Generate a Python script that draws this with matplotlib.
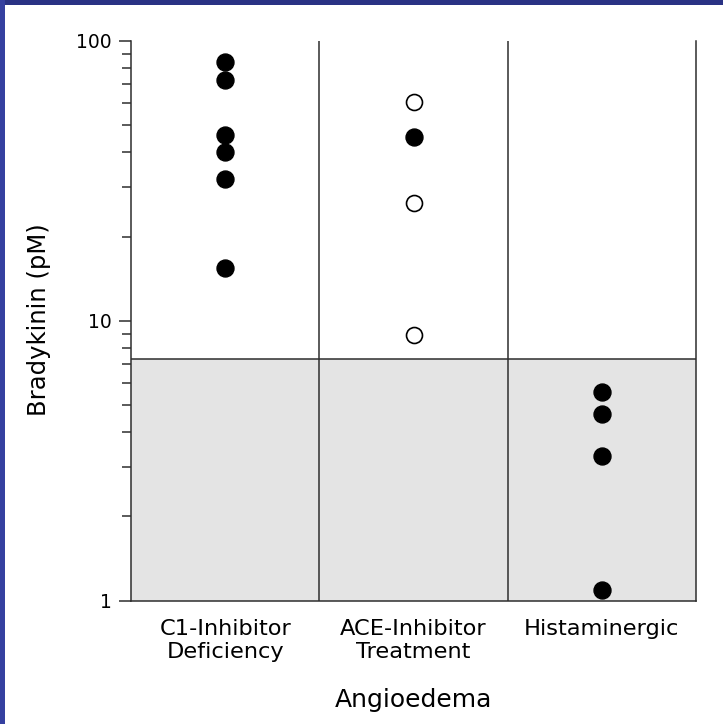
import numpy as np
import matplotlib
matplotlib.use('Agg')
import matplotlib.pyplot as plt
from matplotlib.patches import Rectangle
from matplotlib.ticker import LogLocator, NullFormatter

# Plasma bradykinin by type of angioedema (pM, log scale)
groups = ['C1-Inhibitor\nDeficiency', 'ACE-Inhibitor\nTreatment', 'Histaminergic']
c1_filled = [84.0, 72.5, 46.0, 40.0, 32.0, 15.5]
ace_filled = [45.5]
ace_open = [60.5, 26.3, 8.9]
hist_filled = [5.55, 4.65, 3.3, 1.09]
upper_normal = 7.3  # upper limit of the normal range
y_ticks = [1, 10, 100]
y_tick_labels = ['1', '10', '100']

W, H = 723, 724
INK = '#2e2e2e'


def main():
    plt.rcParams['font.family'] = ['DejaVu Sans']
    fig = plt.figure(figsize=(W / 100, H / 100), dpi=100)
    fig.patch.set_facecolor('white')

    # slide frame (top and left bands)
    fig.add_artist(Rectangle((0, 1 - 5 / H), 1, 5 / H, transform=fig.transFigure,
                             facecolor='#2a3284', edgecolor='none', zorder=-1))
    fig.add_artist(Rectangle((0, 0), 5 / W, 1, transform=fig.transFigure,
                             facecolor='#3540a0', edgecolor='none', zorder=-1))

    ax = fig.add_axes([131 / W, 1 - 600.7 / H, 565 / W, 559.7 / H])
    ax.set_facecolor('none')
    ax.set_yscale('log')
    ax.set_ylim(1, 100)
    ax.set_xlim(0, len(groups))

    # normal range shading and separators
    ax.axhspan(1, upper_normal, color='#e4e4e4', lw=0, zorder=0)
    ax.axhline(upper_normal, color=INK, lw=1.1, zorder=1)
    for b in range(1, len(groups)):
        ax.axvline(b, color=INK, lw=1.1, zorder=1)

    centers = np.arange(len(groups)) + 0.5
    dot = dict(marker='o', ms=12.2, ls='none', zorder=3)
    ax.plot(np.full(len(c1_filled), centers[0]), c1_filled, color='black', **dot)
    ax.plot(np.full(len(ace_filled), centers[1]), ace_filled, color='black', **dot)
    ax.plot(np.full(len(ace_open), centers[1]), ace_open, mfc='white', mec='black',
            mew=1.2, **dict(dot, ms=11.5))
    ax.plot(np.full(len(hist_filled), centers[2]), hist_filled, color='black', **dot)

    for side in ['left', 'right', 'bottom']:
        ax.spines[side].set_color(INK)
        ax.spines[side].set_linewidth(1.1)
    ax.spines['top'].set_visible(False)

    ax.set_yticks(y_ticks, y_tick_labels)
    ax.yaxis.set_minor_locator(LogLocator(base=10, subs=np.arange(2, 10)))
    ax.yaxis.set_minor_formatter(NullFormatter())
    ax.tick_params(axis='y', which='major', length=8.6, width=1.1, color=INK,
                   pad=5, labelsize=13.5)
    ax.tick_params(axis='y', which='minor', length=6.5, width=1.1, color=INK)

    ax.set_xticks(centers, groups, linespacing=1.15)
    ax.tick_params(axis='x', length=0, pad=13.4, labelsize=16.2)

    fig.text(413.5 / W, 1 - 700 / H, 'Angioedema', ha='center', va='center', fontsize=18)
    fig.text(39 / W, 1 - 319.5 / H, 'Bradykinin (pM)', ha='center', va='center',
             rotation=90, fontsize=17.5)

    fig.savefig('out.png', dpi=100)


main()
